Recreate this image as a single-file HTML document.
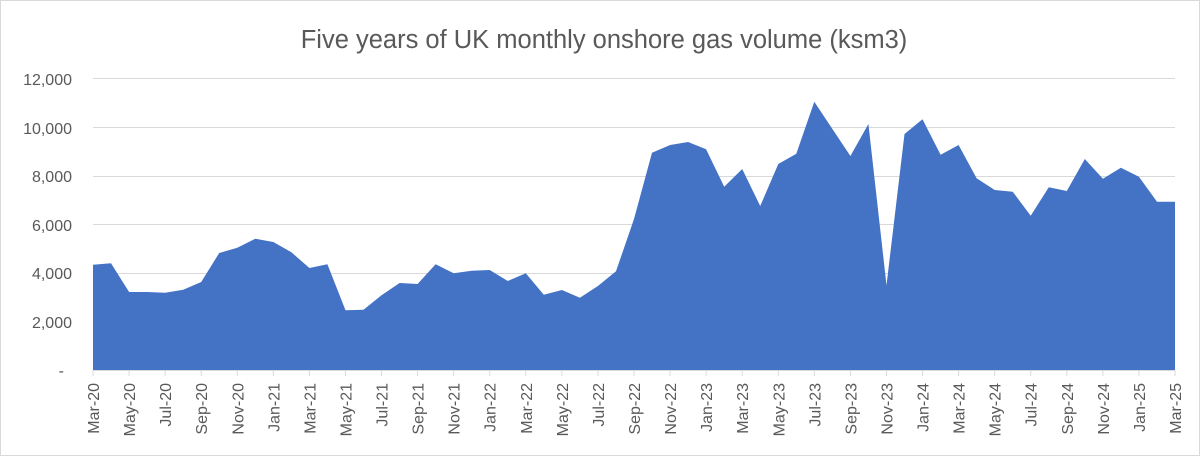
<!DOCTYPE html>
<html><head><meta charset="utf-8"><style>
body{margin:0;background:#fff;}
svg{display:block;font-family:"Liberation Sans",sans-serif;}
</style></head><body>
<svg width="1200" height="456" viewBox="0 0 1200 456">
<rect x="0.5" y="0.5" width="1199" height="455" fill="#fff" stroke="#d9d9d9"/>
<text x="604" y="48" text-anchor="middle" font-size="25.5" fill="#595959">Five years of UK monthly onshore gas volume (ksm3)</text>
<g stroke="#d9d9d9" stroke-width="1">
<line x1="93" x2="1175" y1="78.5" y2="78.5"/>
<line x1="93" x2="1175" y1="127.5" y2="127.5"/>
<line x1="93" x2="1175" y1="176.5" y2="176.5"/>
<line x1="93" x2="1175" y1="224.5" y2="224.5"/>
<line x1="93" x2="1175" y1="273.5" y2="273.5"/>
<line x1="93" x2="1175" y1="321.5" y2="321.5"/>
</g>
<g font-size="16" fill="#595959" text-anchor="end">
<text x="72" y="85">12,000</text>
<text x="72" y="134">10,000</text>
<text x="72" y="182">8,000</text>
<text x="72" y="231">6,000</text>
<text x="72" y="279">4,000</text>
<text x="72" y="328">2,000</text>
<text x="64" y="376">-</text>
</g>
<polygon id="area" fill="#4472c4" points=""/>
<g id="ticks" stroke="#d9d9d9"></g>
<g id="labels" font-size="16" fill="#595959"></g>
<line x1="93" x2="1175" y1="370.5" y2="370.5" stroke="#d9d9d9"/>
</svg>
<script>
var ys=[264.7,263.3,292,292,292.7,289.7,282,253,247.7,238.7,242,252.3,268,264.3,310.3,309.7,295.3,283,284,264.3,273.3,270.7,270,281,273.3,294.7,290,297.7,286,271.3,219,152.7,145,142,149.3,186.7,169,206,164,153.7,101.7,129,156,124,285.3,134,119.3,154.7,145,178.3,190,191.7,215.7,187.3,191,159,178.7,167.7,176.7,201.7,201.7];
var dx=(1175-93)/60,pts=[];
for(var i=0;i<61;i++)pts.push((93+i*dx).toFixed(1)+","+ys[i]);
pts.push("1175,370","93,370");
document.getElementById("area").setAttribute("points",pts.join(" "));
var m=["Jan","Feb","Mar","Apr","May","Jun","Jul","Aug","Sep","Oct","Nov","Dec"];
var t="",l="";
for(var i=0;i<61;i+=2){var x=93+i*dx;var mi=(2+i)%12,yr=20+Math.floor((2+i)/12);
t+='<line x1="'+x+'" x2="'+x+'" y1="370" y2="376"/>';
l+='<text transform="translate('+(x+6)+',383) rotate(-90)" text-anchor="end">'+m[mi]+'-'+yr+'</text>';}
document.getElementById("ticks").innerHTML=t;
document.getElementById("labels").innerHTML=l;
</script>
</body></html>
